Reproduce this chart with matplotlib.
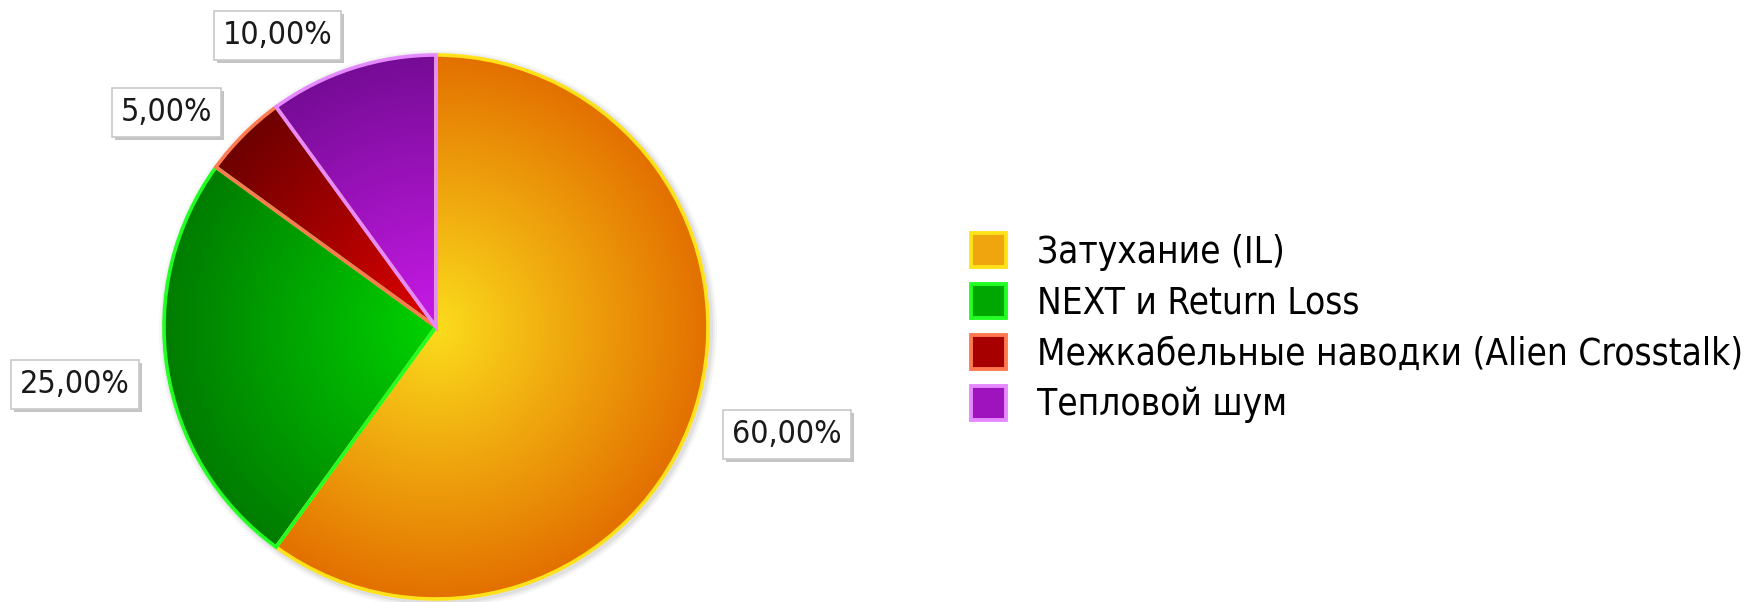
import numpy as np
import matplotlib.pyplot as plt
from matplotlib.colors import LinearSegmentedColormap, to_rgb
from matplotlib.patches import Patch, Circle

plt.rcParams['font.family'] = ['DejaVu Sans']
plt.rcParams['font.stretch'] = 'condensed'

# data
categories = ["Затухание (IL)", "NEXT и Return Loss",
              "Межкабельные наводки (Alien Crosstalk)", "Тепловой шум"]
shares = [60.0, 25.0, 5.0, 10.0]

# colours: bright centre -> dark rim, plus outline colour
inner_colors = ["#fbdc1c", "#00d200", "#e00000", "#c81ae8"]
outer_colors = ["#e37000", "#007c00", "#6e0000", "#760c96"]
edge_colors = ["#ffe21a", "#22ff22", "#ff7a50", "#e58aff"]

# label placement tweaks (degrees, radius factor)
label_nudge = [1, 0, 6.5, 10.5]
label_dist = [1.35, 1.345, 1.265, 1.22]

W, H = 1754, 602
fig = plt.figure(figsize=(W / 100, H / 100), dpi=100)
ax = fig.add_axes([0, 0, 1, 1])

cx, cy, r = 436, 275, 272

# soft shadow behind the pie
for k, a in [(7, 0.03), (5, 0.04), (3, 0.06)]:
    ax.add_patch(Circle((cx + 2, cy - 2), r + k, color='black', alpha=a, lw=0, zorder=0))

wedges, _ = ax.pie(shares, startangle=90, counterclock=False, center=(cx, cy), radius=r,
                   wedgeprops=dict(linewidth=2.6))

# radial gradient fill clipped to each wedge
yy, xx = np.mgrid[cy - r:cy + r:600j, cx - r:cx + r:600j]
dist = np.clip(np.hypot(xx - cx, yy - cy) / r, 0, 1)
for i, w in enumerate(wedges):
    cmap = LinearSegmentedColormap.from_list(f"g{i}", [inner_colors[i], outer_colors[i]])
    im = ax.imshow(dist, cmap=cmap, vmin=0, vmax=1, origin='lower',
                   extent=(cx - r, cx + r, cy - r, cy + r), zorder=1 + i * 0.01,
                   interpolation='bilinear')
    im.set_clip_path(w)
    w.set_facecolor('none')
    w.set_edgecolor(edge_colors[i])
    w.set_zorder(2 + i * 0.01)

# percentage labels in boxes with a small shadow
for i, w in enumerate(wedges):
    ang = np.deg2rad((w.theta1 + w.theta2) / 2 + label_nudge[i])
    tx = cx + label_dist[i] * r * np.cos(ang)
    ty = cy + label_dist[i] * r * np.sin(ang)
    txt = f"{shares[i]:.2f}".replace('.', ',') + "%"
    ax.text(tx + 3, ty - 3, txt, ha='center', va='center', fontsize=23, color='none',
            bbox=dict(boxstyle='square,pad=0.28', fc='#c4c4c4', ec='none'), zorder=4)
    ax.text(tx, ty, txt, ha='center', va='center', fontsize=23, color='#1a1a1a',
            bbox=dict(boxstyle='square,pad=0.28', fc='white', ec='#c8c8c8', lw=1.2), zorder=5)

ax.set_xlim(0, W)
ax.set_ylim(0, H)
ax.set_aspect('equal')
ax.axis('off')

# legend squares: mid tone of the gradient with the slice outline colour
handles = []
for i in range(len(categories)):
    mid = 0.5 * np.array(to_rgb(inner_colors[i])) + 0.5 * np.array(to_rgb(outer_colors[i]))
    handles.append(Patch(facecolor=mid, edgecolor=edge_colors[i], linewidth=2.8))
fig.legend(handles, categories, loc='upper left', bbox_to_anchor=(971 / W, 1 - 233 / H),
           frameon=False, fontsize=26.5, handlelength=0.95, handleheight=1.05,
           handletextpad=0.85, labelspacing=0.36, borderpad=0, borderaxespad=0)

fig.savefig('out.png', dpi=100)
